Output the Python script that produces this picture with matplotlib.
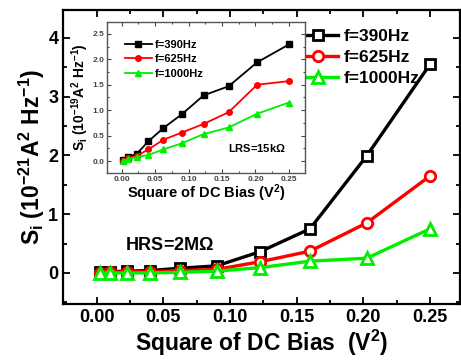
import numpy as np
import matplotlib
matplotlib.use('Agg')
import matplotlib.pyplot as plt
from matplotlib.ticker import MultipleLocator, FormatStrFormatter

plt.rcParams['font.family'] = ['Liberation Sans', 'DejaVu Sans']
plt.rcParams['font.weight'] = 'bold'
plt.rcParams['mathtext.fontset'] = 'custom'
plt.rcParams['mathtext.rm'] = 'Liberation Sans:bold'
plt.rcParams['mathtext.it'] = 'Liberation Sans:bold'
plt.rcParams['mathtext.bf'] = 'Liberation Sans:bold'
plt.rcParams['mathtext.default'] = 'bf'

# square of DC bias (V^2)
bias_sq = [0.0025, 0.01, 0.0225, 0.04, 0.0625, 0.09, 0.1225, 0.16, 0.2025, 0.25]
labels = ['f=390Hz', 'f=625Hz', 'f=1000Hz']

# HRS = 2 MOhm, units 1e-21 A^2/Hz
hrs_390 = [0.01, 0.02, 0.03, 0.04, 0.08, 0.12, 0.36, 0.75, 1.99, 3.55]
hrs_625 = [0.0, 0.01, 0.02, 0.02, 0.04, 0.06, 0.19, 0.37, 0.85, 1.65]
hrs_1000 = [0.0, 0.0, 0.0, 0.0, 0.01, 0.03, 0.09, 0.2, 0.25, 0.75]

# LRS = 15 kOhm, units 1e-19 A^2/Hz
lrs_390 = [0.02, 0.08, 0.14, 0.39, 0.65, 0.92, 1.29, 1.47, 1.94, 2.29]
lrs_625 = [0.01, 0.06, 0.1, 0.23, 0.42, 0.56, 0.73, 0.96, 1.5, 1.57]
lrs_1000 = [0.0, 0.04, 0.08, 0.12, 0.23, 0.35, 0.53, 0.66, 0.93, 1.15]

colors = ['black', '#ff0000', '#00ee00']

fig = plt.figure(figsize=(4.61, 3.62), dpi=100)
ax = fig.add_axes([0.137, 0.160, 0.861, 0.812])

markers = ['s', 'o', '^']
sizes = [6.5, 7.5, 8]
for ys, c, m, ms, lab in zip([hrs_390, hrs_625, hrs_1000], colors, markers, sizes, labels):
    ax.plot(bias_sq, ys, color=c, lw=2.4, marker=m, ms=ms, mfc='white',
            mec=c, mew=2, label=lab)

ax.set_xlim(-0.025, 0.2725)
ax.set_ylim(-0.53, 4.47)
ax.xaxis.set_major_locator(MultipleLocator(0.05))
ax.xaxis.set_minor_locator(MultipleLocator(0.025))
ax.yaxis.set_major_locator(MultipleLocator(1))
ax.yaxis.set_minor_locator(MultipleLocator(0.5))
ax.xaxis.set_major_formatter(FormatStrFormatter('%.2f'))
ax.tick_params(which='both', direction='in', top=True, right=True, width=1.3)
ax.tick_params(which='major', length=5, labelsize=13)
ax.tick_params(which='minor', length=3)
plt.setp(ax.get_xticklabels() + ax.get_yticklabels(), fontweight='bold')
for s in ax.spines.values():
    s.set_linewidth(1.6)
ax.set_xlabel(r'Square of DC Bias  (V$^{2}$)', fontsize=16.5, fontweight='bold', labelpad=1)
ax.set_ylabel(r'S$_{i}$ (10$^{-21}$A$^{2}$ Hz$^{-1}$)', fontsize=16.5, fontweight='bold', labelpad=1)
ax.legend(loc='upper left', bbox_to_anchor=(0.64, 0.93), bbox_transform=fig.transFigure,
          frameon=False, fontsize=12.5, handlelength=2.3, handletextpad=0.3,
          labelspacing=0.35, borderaxespad=0, borderpad=0.2)
ax.text(0.021, 0.39, r'HRS=2M$\Omega$', fontsize=13)

# inset
ins = fig.add_axes([0.232, 0.522, 0.4295, 0.417])
for ys, c, m, lab in zip([lrs_390, lrs_625, lrs_1000], colors, markers, labels):
    ins.plot(bias_sq, ys, color=c, lw=1.3, marker=m, ms=4, label=lab)
ins.set_xlim(-0.022, 0.274)
ins.set_ylim(-0.235, 2.73)
ins.xaxis.set_major_locator(MultipleLocator(0.05))
ins.xaxis.set_minor_locator(MultipleLocator(0.025))
ins.yaxis.set_major_locator(MultipleLocator(0.5))
ins.yaxis.set_minor_locator(MultipleLocator(0.25))
ins.xaxis.set_major_formatter(FormatStrFormatter('%.2f'))
ins.yaxis.set_major_formatter(FormatStrFormatter('%.1f'))
ins.tick_params(which='both', direction='in', top=True, right=True, width=0.8,
                colors='#444444')
ins.tick_params(which='major', length=3, labelsize=6, pad=2)
ins.tick_params(which='minor', length=1.5)
plt.setp(ins.get_xticklabels() + ins.get_yticklabels(), fontweight='bold')
for s in ins.spines.values():
    s.set_linewidth(1.0)
    s.set_color('#555555')
ins.set_xlabel(r'Square of DC Bias (V$^{2}$)', fontsize=10.5, fontweight='bold', labelpad=0)
ins.set_ylabel(r'S$_{i}$ (10$^{-19}$A$^{2}$ Hz$^{-1}$)', fontsize=10, fontweight='bold', labelpad=1)
ins.legend(loc='upper left', bbox_to_anchor=(0.04, 0.95), frameon=False, fontsize=8,
           handlelength=2.4, handletextpad=0.3, labelspacing=0.4)
ins.text(0.159, 0.18, r'LRS=15k$\Omega$', fontsize=8)

fig.savefig('out.png', dpi=100)
